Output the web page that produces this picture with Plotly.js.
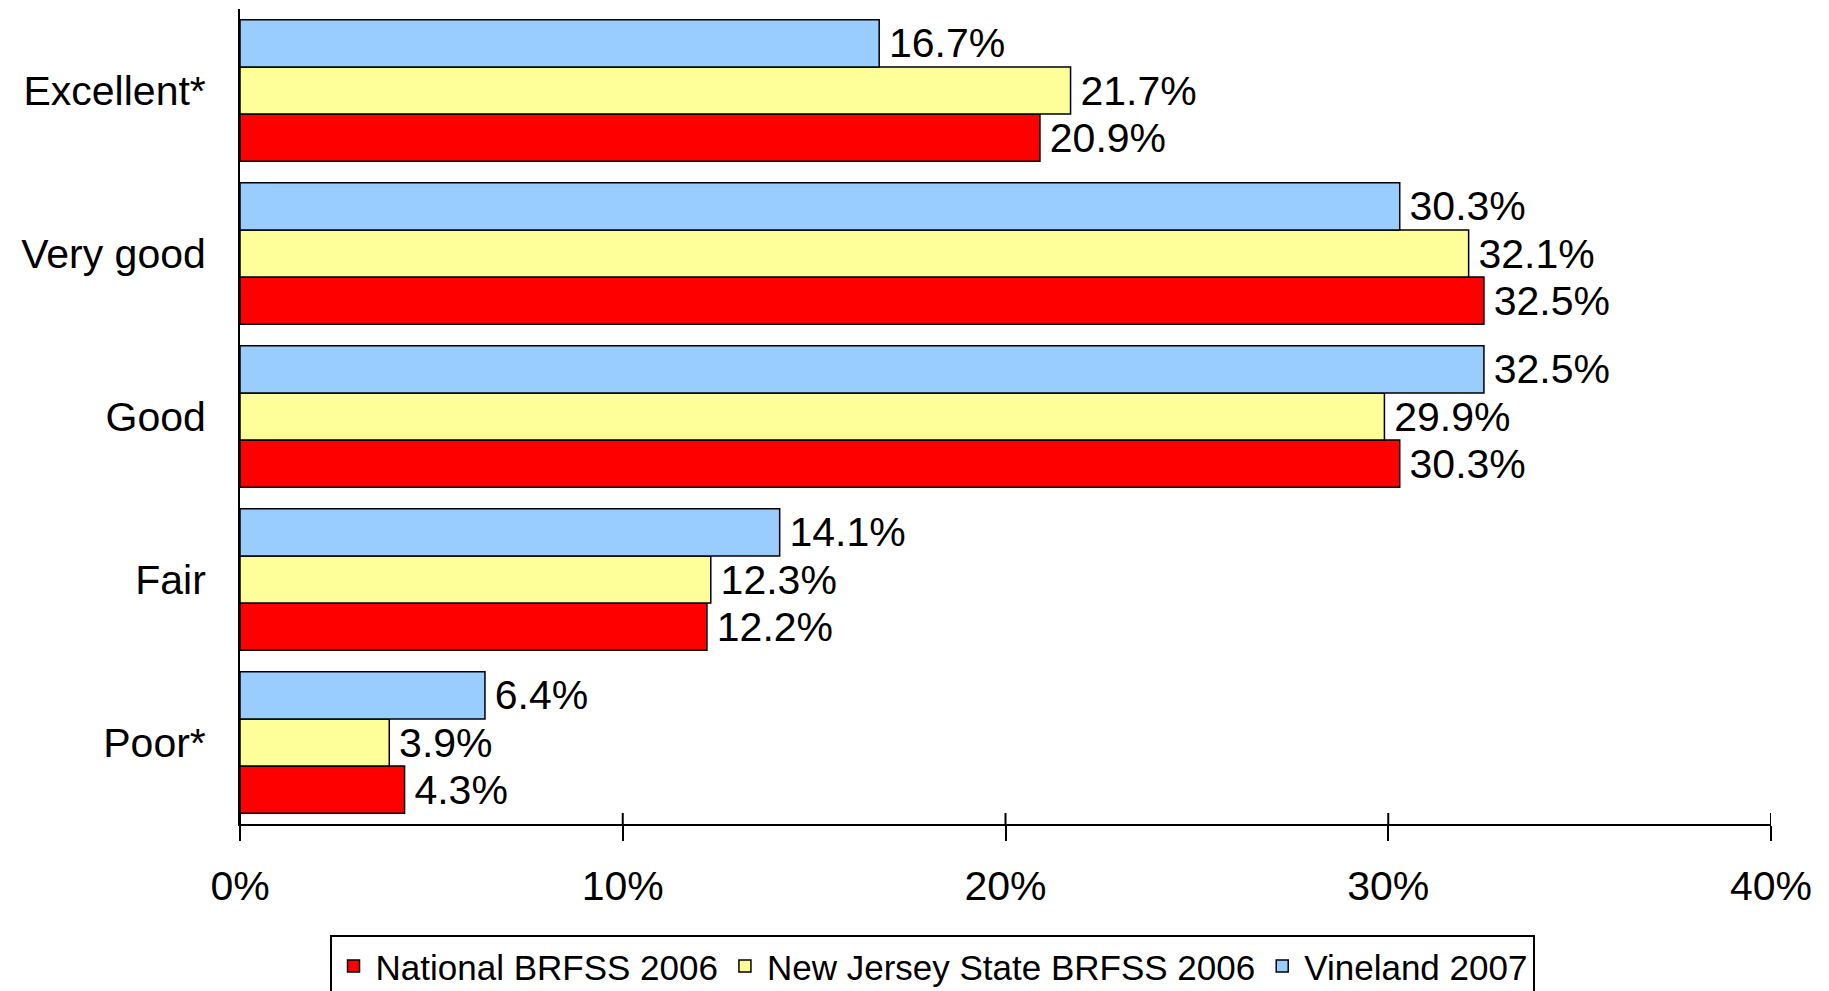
<!DOCTYPE html>
<html>
<head>
<meta charset="utf-8">
<script src="https://cdn.plot.ly/plotly-3.0.1.min.js"></script>
<style>
html,body{margin:0;padding:0;background:#fff;}
#chart{width:1829px;height:991px;}
</style>
</head>
<body>
<div id="chart"></div>
<script>
// Categories listed top to bottom as in the chart
const categories = ["Excellent*", "Very good", "Good", "Fair", "Poor*"];
const seriesNames = ["National BRFSS 2006", "New Jersey State BRFSS 2006", "Vineland 2007"];
const national = [20.9, 32.5, 30.3, 12.2, 4.3];
const newJersey = [21.7, 32.1, 29.9, 12.3, 3.9];
const vineland = [16.7, 30.3, 32.5, 14.1, 6.4];
const tickValues = [0, 10, 20, 30, 40];
const colors = ["#FF0000", "#FFFF99", "#99CCFF"];

const FONT = "Arial, 'Liberation Sans', sans-serif";
const seriesValues = [national, newJersey, vineland];

const traces = seriesValues.map((vals, i) => ({
  type: "bar",
  orientation: "h",
  name: seriesNames[i],
  y: categories,
  x: vals,
  marker: { color: colors[i], line: { color: "#000", width: 1.5 } },
  text: vals.map(v => v.toFixed(1) + "%"),
  texttemplate: "\u2006%{text}",
  textposition: "outside",
  constraintext: "none",
  cliponaxis: false,
  textfont: { family: FONT, size: 41, color: "#000" },
  hoverinfo: "x+y+name"
}));

// upper half of the crossing tick marks on the x axis
const shapes = tickValues.map(v => ({
  type: "line",
  xref: "x", yref: "paper",
  ysizemode: "pixel", yanchor: 0,
  x0: v, x1: v, y0: 0, y1: 11,
  line: { color: "#000", width: 2 }
}));

const layout = {
  width: 1829, height: 991,
  margin: { l: 240, r: 58, t: 9, b: 167, pad: 0, autoexpand: false },
  paper_bgcolor: "#fff", plot_bgcolor: "#fff",
  barmode: "group",
  bargap: 0.131,
  bargroupgap: 0,
  font: { family: FONT, color: "#000" },
  showlegend: true,
  xaxis: {
    range: [0, 40],
    tickvals: tickValues,
    ticktext: tickValues.map(v => v + "%"),
    showgrid: false, zeroline: false,
    showline: true, linecolor: "#000", linewidth: 2,
    ticks: "outside", ticklen: 15, tickwidth: 2, tickcolor: "#000",
    ticklabelstandoff: 10,
    automargin: false,
    tickfont: { family: FONT, size: 41, color: "#000" },
    fixedrange: true
  },
  yaxis: {
    type: "category",
    categoryorder: "array",
    categoryarray: categories.slice().reverse(),
    range: [-0.5, categories.length - 0.5],
    showgrid: false, zeroline: false,
    showline: true, linecolor: "#000", linewidth: 2,
    ticks: "",
    ticklabelstandoff: 24,
    automargin: false,
    tickfont: { family: FONT, size: 41, color: "#000" },
    fixedrange: true
  },
  legend: {
    orientation: "h",
    x: 0.452, xanchor: "center",
    y: -0.136, yanchor: "top",
    bordercolor: "#000", borderwidth: 2,
    bgcolor: "#fff",
    itemwidth: 34,
    font: { family: FONT, size: 35, color: "#000" },
    traceorder: "normal"
  },
  shapes: shapes
};

Plotly.newPlot("chart", traces, layout, { displayModeBar: false, staticPlot: true });
</script>
</body>
</html>
